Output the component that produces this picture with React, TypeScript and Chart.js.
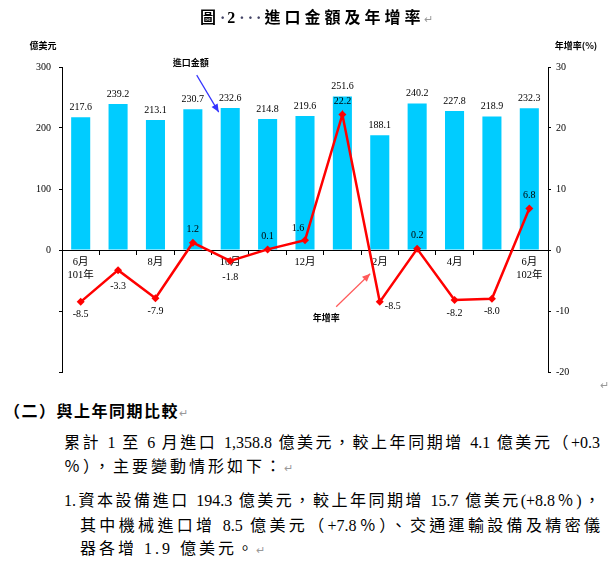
import React, { useEffect, useRef } from "react";
import { Chart, registerables } from "chart.js";

Chart.register(...registerables);

// ---- data ----
const months = ["6月", "7月", "8月", "9月", "10月", "11月", "12月", "1月", "2月", "3月", "4月", "5月", "6月"];
const yearTags = ["101年", "", "", "", "", "", "", "", "", "", "", "", "102年"];
const importValues = [217.6, 239.2, 213.1, 230.7, 232.6, 214.8, 219.6, 251.6, 188.1, 240.2, 227.8, 218.9, 232.3];
const growthRates = [-8.5, -3.3, -7.9, 1.2, -1.8, 0.1, 1.6, 22.2, -8.5, 0.2, -8.2, -8.0, 6.8];
const leftAxis = { min: -200, max: 300, step: 100 };
const rightAxis = { min: -20, max: 30, step: 10 };

const SERIF = '"Liberation Serif", "Noto Sans CJK TC", serif';
const CJK = '"Noto Sans CJK TC", "Liberation Serif", sans-serif';

// label placement style for growth labels
const growthLabelSide = ["below", "below2", "below", "above", "below2", "above", "aboveLeft", "above", "right", "above", "below", "below", "above"];

const labelPlugin = {
  id: "valueLabels",
  afterDatasetsDraw(chart: any) {
    const ctx = chart.ctx;
    const barMeta = chart.getDatasetMeta(0);
    const lineMeta = chart.getDatasetMeta(1);
    ctx.save();
    ctx.fillStyle = "#000";
    ctx.font = "10px " + SERIF;
    ctx.textAlign = "center";
    ctx.textBaseline = "middle";
    barMeta.data.forEach((el: any, i: number) => {
      ctx.fillText(importValues[i].toFixed(1), el.x, el.y - 10);
    });
    lineMeta.data.forEach((el: any, i: number) => {
      const side = growthLabelSide[i];
      let dx = 0, dy = 0;
      if (side === "above") dy = -13;
      else if (side === "below") dy = 13;
      else if (side === "below2") dy = 16;
      else if (side === "aboveLeft") { dx = -7; dy = -12; }
      else if (side === "right") { dx = 13; dy = 5; }
      ctx.fillText(growthRates[i].toFixed(1), el.x + dx, el.y + dy);
    });

    // axis titles
    const area = chart.chartArea;
    ctx.font = "bold 9px " + CJK;
    ctx.fillText("億美元", area.left - 19, area.top - 21);
    ctx.fillText("年增率(%)", area.right + 28, area.top - 21);
    ctx.fillStyle = "#999";
    ctx.font = "11px " + SERIF;
    ctx.fillText("↵", area.right + 56, area.bottom + 14);

    // annotation: 進口金額 arrow to bar 4
    const drawArrow = (x1: number, y1: number, x2: number, y2: number, color: string) => {
      ctx.strokeStyle = color;
      ctx.fillStyle = color;
      ctx.lineWidth = 1.2;
      ctx.beginPath();
      ctx.moveTo(x1, y1);
      ctx.lineTo(x2, y2);
      ctx.stroke();
      const a = Math.atan2(y2 - y1, x2 - x1);
      const L = 8, W = 3.5;
      ctx.beginPath();
      ctx.moveTo(x2, y2);
      ctx.lineTo(x2 - L * Math.cos(a) + W * Math.sin(a), y2 - L * Math.sin(a) - W * Math.cos(a));
      ctx.lineTo(x2 - L * Math.cos(a) - W * Math.sin(a), y2 - L * Math.sin(a) + W * Math.cos(a));
      ctx.closePath();
      ctx.fill();
    };
    const b4 = barMeta.data[4];
    const ex = b4.x - b4.width / 2 - 2, ey = b4.y + 4;
    const sx = ex - 22, sy = ey - 37;
    drawArrow(sx, sy, ex, ey, "#3333ff");
    ctx.fillStyle = "#000";
    ctx.font = "bold 9px " + CJK;
    ctx.fillText("進口金額", sx - 6, sy - 13);

    const p7 = lineMeta.data[7], p8 = lineMeta.data[8];
    const t = 0.85;
    const rx = p7.x + (p8.x - p7.x) * t - 4, ry = p7.y + (p8.y - p7.y) * t;
    const rsx = rx - 34, rsy = ry + 33;
    drawArrow(rsx, rsy, rx, ry, "#ff5a5a");
    ctx.fillStyle = "#000";
    ctx.font = "bold 9px " + CJK;
    ctx.fillText("年增率", rsx - 10, rsy + 11);
    ctx.restore();
  },
};

function ChartCanvas() {
  const ref = useRef<HTMLCanvasElement | null>(null);
  useEffect(() => {
    if (!ref.current) return;
    const chart = new Chart(ref.current, {
      type: "bar",
      data: {
        labels: months,
        datasets: [
          {
            type: "bar",
            label: "進口金額",
            data: importValues,
            backgroundColor: "#00ccff",
            yAxisID: "y",
            order: 2,
            categoryPercentage: 1,
            barPercentage: 0.51,
          } as any,
          {
            type: "line",
            label: "年增率",
            data: growthRates,
            yAxisID: "y1",
            borderColor: "#ff0000",
            borderWidth: 2.5,
            pointStyle: "rectRot",
            pointRadius: 4,
            pointBackgroundColor: "#ff0000",
            pointBorderWidth: 0,
            tension: 0,
            order: 1,
          } as any,
        ],
      },
      options: {
        responsive: false,
        animation: false,
        devicePixelRatio: 1,
        layout: { padding: { top: 67, bottom: 23, left: 0, right: 0 } },
        plugins: { legend: { display: false }, tooltip: { enabled: false } },
        scales: {
          x: {
            type: "category",
            position: { y: 0 } as any,
            offset: true,
            grid: { display: true, drawOnChartArea: false, drawTicks: true, tickLength: 4, color: "#000", offset: true },
            border: { display: true, color: "#000", width: 1 },
            ticks: {
              autoSkip: false,
              maxRotation: 0,
              padding: 2,
              color: "#000",
              font: { family: SERIF, size: 10.5 },
              callback: (_v: any, i: number) => (i % 2 === 0 ? (yearTags[i] ? [months[i], yearTags[i]] : months[i]) : ""),
            },
          },
          y: {
            type: "linear",
            position: "left",
            min: leftAxis.min,
            max: leftAxis.max,
            afterFit: (s: any) => { s.width = 62; },
            grid: { drawOnChartArea: false, drawTicks: true, tickLength: 3, color: "#000" },
            border: { display: true, color: "#000", width: 1 },
            ticks: {
              stepSize: leftAxis.step,
              padding: 8,
              color: "#000",
              font: { family: SERIF, size: 10 },
              callback: (v: any) => (v >= 0 ? String(v) : ""),
            },
          },
          y1: {
            type: "linear",
            position: "right",
            min: rightAxis.min,
            max: rightAxis.max,
            afterFit: (s: any) => { s.width = 66; },
            grid: { drawOnChartArea: false, drawTicks: true, tickLength: 3, color: "#000" },
            border: { display: true, color: "#000", width: 1 },
            ticks: {
              stepSize: rightAxis.step,
              padding: 5,
              color: "#000",
              font: { family: SERIF, size: 10 },
              callback: (v: any) => String(v),
            },
          },
        },
      },
      plugins: [labelPlugin],
    });
    return () => chart.destroy();
  }, []);
  return <canvas ref={ref} width={614} height={395} style={{ position: "absolute", left: 0, top: 0, width: 614, height: 395 }} />;
}

const mark = <span style={{ color: "#999", fontSize: 11, fontWeight: "normal" }}>↵</span>;

export default function App() {
  const base: React.CSSProperties = { position: "absolute", fontFamily: SERIF, color: "#000", whiteSpace: "nowrap" };
  const just: React.CSSProperties = { ...base, textAlign: "justify", textAlignLast: "justify" as any, whiteSpace: "normal" };
  return (
    <div style={{ position: "absolute", left: 0, top: 0, width: 614, height: 561, background: "#fff", overflow: "hidden" }}>
      <ChartCanvas />
      <div style={{ ...base, left: 200, top: 7, fontSize: 16, fontWeight: "bold", letterSpacing: 4, lineHeight: "22px" }}>
        圖<span style={{ color: "#446", letterSpacing: 2 }}>·</span>2<span style={{ color: "#446", letterSpacing: 3 }}>···</span>進口金額及年增率{mark}
      </div>
      <div style={{ ...base, left: 4, top: 401, fontSize: 16, fontWeight: "bold", letterSpacing: 1.5, lineHeight: "22px" }}>
        （二）與上年同期比較{mark}
      </div>
      <div style={{ ...just, left: 64, top: 432, width: 536, fontSize: 16, lineHeight: "22px" }}>
        累計 1 至 6 月進口 1,358.8 億美元，較上年同期增 4.1 億美元（+0.3
      </div>
      <div style={{ ...base, left: 64, top: 456, fontSize: 16, letterSpacing: 3, lineHeight: "22px" }}>
        ％），主要變動情形如下：{mark}
      </div>
      <div style={{ ...just, left: 64, top: 490, width: 536, fontSize: 16, lineHeight: "22px" }}>
        1.資本設備進口 194.3 億美元，較上年同期增 15.7 億美元(+8.8％)，
      </div>
      <div style={{ ...just, left: 80, top: 515, width: 520, fontSize: 16, lineHeight: "22px" }}>
        其中機械進口增 8.5 億美元（+7.8％）、交通運輸設備及精密儀
      </div>
      <div style={{ ...base, left: 80, top: 538, fontSize: 16, letterSpacing: 3, lineHeight: "22px" }}>
        器各增 1.9 億美元。{mark}
      </div>
    </div>
  );
}
